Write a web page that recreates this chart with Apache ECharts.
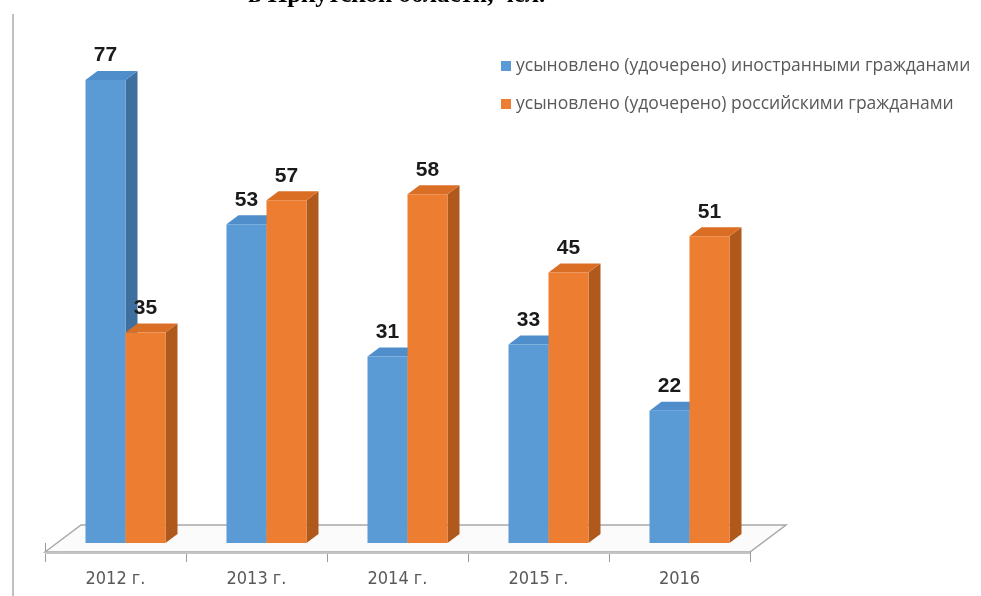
<!DOCTYPE html>
<html>
<head>
<meta charset="utf-8">
<script src="https://cdn.jsdelivr.net/npm/echarts@6/dist/echarts.min.js"></script>
<style>
  html, body { margin: 0; padding: 0; background: #fff; }
  #chart { width: 981px; height: 596px; }
</style>
</head>
<body>
<div id="chart"></div>
<script>
const years = ['2012 г.', '2013 г.', '2014 г.', '2015 г.', '2016'];
const foreignAdopted = [77, 53, 31, 33, 22];
const russianAdopted = [35, 57, 58, 45, 51];
const seriesNames = [
  'усыновлено (удочерено) иностранными гражданами',
  'усыновлено (удочерено) российскими гражданами'
];

// 3d look
const DEPTH_X = 12;
const DEPTH_Y = 9;
const BAR_W = 40;
const SHIFT = 10; // pair is a bit right of the category middle

const shades = {
  '#5B9BD5': { top: '#4F8DCB', side: '#3F6F9F' },
  '#ED7D31': { top: '#DA6E25', side: '#B0591D' }
};

function bar3d(side) {
  return function (params, api) {
    const cat = api.value(0);
    const top = api.coord([cat, api.value(1)]);
    const base = api.coord([cat, 0]);
    const color = api.visual('color');
    const x0 = top[0] + SHIFT + (side < 0 ? -BAR_W : 0);
    const x1 = x0 + BAR_W;
    const y0 = top[1], y1 = base[1];
    return {
      type: 'group',
      children: [
        { type: 'polygon', shape: { points: [[x1, y0], [x1 + DEPTH_X, y0 - DEPTH_Y], [x1 + DEPTH_X, y1 - DEPTH_Y], [x1, y1]] },
          style: { fill: shades[color].side } },
        { type: 'polygon', shape: { points: [[x0, y0], [x0 + DEPTH_X, y0 - DEPTH_Y], [x1 + DEPTH_X, y0 - DEPTH_Y], [x1, y0]] },
          style: { fill: shades[color].top } },
        { type: 'rect', shape: { x: x0, y: y0, width: BAR_W, height: y1 - y0 },
          style: { fill: color } },
        { type: 'text', style: {
            text: String(api.value(1)), x: (x0 + x1) / 2, y: y0 - 14,
            align: 'center', verticalAlign: 'bottom',
            font: 'bold 21px "Liberation Sans", Arial, sans-serif', fill: '#1a1a1a' } }
      ]
    };
  };
}

// floor under the bars, drawn from the grid box
function floor(params) {
  const cs = params.coordSys;
  const fy = cs.y + cs.height + 9;
  const by = cs.y + cs.height - 18;
  const dx = 36;
  const l = cs.x, r = cs.x + cs.width;
  return {
    type: 'group',
    children: [
      { type: 'polygon', shape: { points: [[l, fy], [l + dx, by], [r + dx, by], [r, fy]] },
        style: { fill: '#fbfbfb', stroke: '#a8a8a8', lineWidth: 1.5 } },
      { type: 'rect', shape: { x: l, y: fy, width: r - l, height: 2 },
        style: { fill: '#c4c4c4' } }
    ]
  };
}

const chart = echarts.init(document.getElementById('chart'));
chart.setOption({
  animation: false,
  backgroundColor: '#fff',
  title: {
    text: 'в Иркутской области, чел.',
    left: 243,
    top: -22,
    textStyle: { fontFamily: '"Liberation Serif", serif', fontWeight: 'bold', fontSize: 25, color: '#000' }
  },
  legend: {
    orient: 'vertical',
    left: 496,
    top: 52,
    itemWidth: 10,
    itemHeight: 10,
    itemGap: 20,
    icon: 'rect',
    textStyle: { fontFamily: '"Open Sans", sans-serif', fontSize: 17.5, color: '#595959' },
    data: seriesNames
  },
  grid: { left: 45, width: 705, top: 62, bottom: 53 },
  xAxis: {
    type: 'category',
    data: years,
    z: 0,
    axisLine: { show: false },
    // ticks start under the floor, only the part below its front edge shows
    axisTick: { show: true, interval: 0, length: 19, lineStyle: { color: '#999', width: 1 } },
    axisLabel: { margin: 27, fontFamily: '"Liberation Sans Narrow", "DejaVu Sans Condensed", sans-serif', fontSize: 18, color: '#595959' }
  },
  yAxis: { type: 'value', min: 0, max: 80, show: false },
  graphic: [
    { type: 'line', shape: { x1: 13, y1: 14, x2: 13, y2: 596 }, style: { stroke: '#c0c0c0', lineWidth: 2 } }
  ],
  series: [
    { type: 'custom', name: 'floor', renderItem: floor, data: [[0, 0]], z: 1, silent: true },
    { type: 'custom', name: seriesNames[0], itemStyle: { color: '#5B9BD5' }, renderItem: bar3d(-1),
      data: foreignAdopted.map((v, i) => [i, v]), z: 2 },
    { type: 'custom', name: seriesNames[1], itemStyle: { color: '#ED7D31' }, renderItem: bar3d(1),
      data: russianAdopted.map((v, i) => [i, v]), z: 3 }
  ]
});
</script>
</body>
</html>
